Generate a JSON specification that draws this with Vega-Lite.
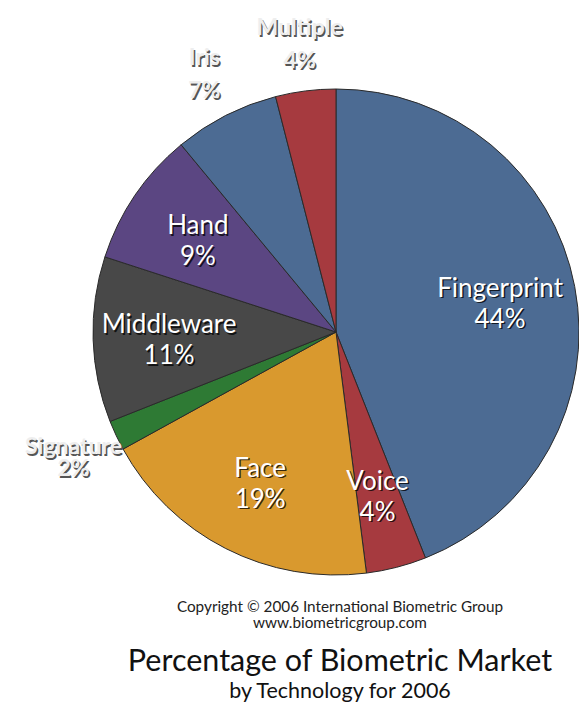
{
  "$schema": "https://vega.github.io/schema/vega-lite/v6.json",
  "width": 486,
  "height": 486,
  "autosize": {"type": "none"},
  "padding": {"left": 93, "top": 89, "right": 0, "bottom": 134},
  "background": "white",
  "title": {
    "text": "Percentage of Biometric Market",
    "subtitle": "by Technology for 2006",
    "orient": "bottom",
    "anchor": "middle",
    "offset": 16,
    "dx": 4,
    "font": "Lato",
    "fontSize": 30.5,
    "fontWeight": "normal",
    "color": "#111111",
    "subtitleFont": "Lato",
    "subtitleFontSize": 21.5,
    "subtitleColor": "#111111",
    "subtitlePadding": 3
  },
  "data": {
    "values": [
      {"tech": "Fingerprint", "share": 44, "order": 1, "label": "Fingerprint\n44%"},
      {"tech": "Voice", "share": 4, "order": 2, "label": "Voice\n4%"},
      {"tech": "Face", "share": 19, "order": 3, "label": "Face\n19%"},
      {"tech": "Signature", "share": 2, "order": 4, "label": "Signature\n2%"},
      {"tech": "Middleware", "share": 11, "order": 5, "label": "Middleware\n11%"},
      {"tech": "Hand", "share": 9, "order": 6, "label": "Hand\n9%"},
      {"tech": "Iris", "share": 7, "order": 7, "label": "Iris\n7%"},
      {"tech": "Multiple", "share": 4, "order": 8, "label": "Multiple\n4%"}
    ]
  },
  "layer": [
    {
      "mark": {"type": "arc", "stroke": "#2a2a2a", "strokeWidth": 1},
      "encoding": {
        "theta": {"field": "share", "type": "quantitative", "stack": true},
        "order": {"field": "order", "type": "quantitative"},
        "color": {
          "field": "tech",
          "type": "nominal",
          "legend": null,
          "scale": {
            "domain": ["Fingerprint", "Voice", "Face", "Signature", "Middleware", "Hand", "Iris", "Multiple"],
            "range": ["#4c6b93", "#a63a3f", "#d9992e", "#2e7a34", "#484848", "#5b4682", "#4c6b93", "#a63a3f"]
          }
        }
      }
    },
    {
      "mark": {"type": "text", "radius": 167, "font": "Lato", "fontSize": 26, "lineBreak": "\n", "lineHeight": 31, "fill": "#000000", "opacity": 0.75, "dx": 1.5, "dy": -10.5},
      "encoding": {
        "theta": {"field": "share", "type": "quantitative", "stack": true},
        "order": {"field": "order", "type": "quantitative"},
        "text": {"condition": {"test": "indexof(['Iris','Multiple','Signature'], datum.tech) < 0", "field": "label", "type": "nominal"}, "value": ""}
      }
    },
    {
      "mark": {"type": "text", "radius": 167, "font": "Lato", "fontSize": 26, "lineBreak": "\n", "lineHeight": 31, "fill": "#ffffff", "dy": -12},
      "encoding": {
        "theta": {"field": "share", "type": "quantitative", "stack": true},
        "order": {"field": "order", "type": "quantitative"},
        "text": {"condition": {"test": "indexof(['Iris','Multiple','Signature'], datum.tech) < 0", "field": "label", "type": "nominal"}, "value": ""}
      }
    },
    {
      "mark": {"type": "text", "radius": 290, "font": "Lato", "fontSize": 23, "fontWeight": "bold", "lineBreak": "\n", "lineHeight": 33, "fill": "#555555", "dx": 1.5, "dy": -14},
      "encoding": {
        "theta": {"field": "share", "type": "quantitative", "stack": true},
        "order": {"field": "order", "type": "quantitative"},
        "text": {"condition": {"test": "indexof(['Iris','Multiple'], datum.tech) >= 0", "field": "label", "type": "nominal"}, "value": ""}
      }
    },
    {
      "mark": {"type": "text", "radius": 290, "font": "Lato", "fontSize": 23, "fontWeight": "bold", "lineBreak": "\n", "lineHeight": 33, "fill": "#eeeeee", "dy": -16},
      "encoding": {
        "theta": {"field": "share", "type": "quantitative", "stack": true},
        "order": {"field": "order", "type": "quantitative"},
        "text": {"condition": {"test": "indexof(['Iris','Multiple'], datum.tech) >= 0", "field": "label", "type": "nominal"}, "value": ""}
      }
    },
    {
      "mark": {"type": "text", "radius": 290, "font": "Lato", "fontSize": 23, "fontWeight": "bold", "lineBreak": "\n", "lineHeight": 22, "fill": "#555555", "dx": 1.5, "dy": -6},
      "encoding": {
        "theta": {"field": "share", "type": "quantitative", "stack": true},
        "order": {"field": "order", "type": "quantitative"},
        "text": {"condition": {"test": "datum.tech == 'Signature'", "field": "label", "type": "nominal"}, "value": ""}
      }
    },
    {
      "mark": {"type": "text", "radius": 290, "font": "Lato", "fontSize": 23, "fontWeight": "bold", "lineBreak": "\n", "lineHeight": 22, "fill": "#eeeeee", "dy": -8},
      "encoding": {
        "theta": {"field": "share", "type": "quantitative", "stack": true},
        "order": {"field": "order", "type": "quantitative"},
        "text": {"condition": {"test": "datum.tech == 'Signature'", "field": "label", "type": "nominal"}, "value": ""}
      }
    },
    {
      "data": {"values": [{"note": "Copyright © 2006 International Biometric Group\nwww.biometricgroup.com"}]},
      "mark": {"type": "text", "radius": 275, "theta": 3.14159, "dx": 4, "font": "Lato", "fontSize": 15.3, "lineBreak": "\n", "lineHeight": 16, "fill": "#222222"},
      "encoding": {
        "text": {"field": "note", "type": "nominal"}
      }
    }
  ],
  "config": {"view": {"stroke": null}}
}
